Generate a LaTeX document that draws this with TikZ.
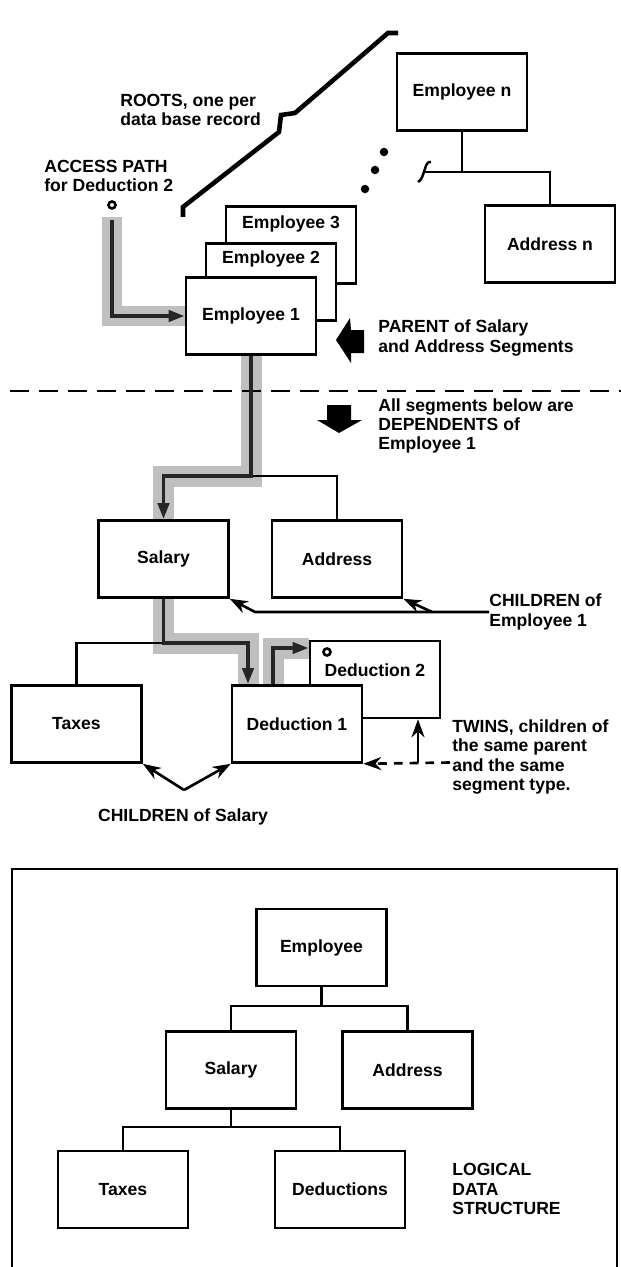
\documentclass[tikz,border=0pt]{standalone}
\usepackage{fontspec}
\setmainfont{Liberation Sans}
\usetikzlibrary{positioning, arrows.meta, backgrounds}

\begin{document}
\begin{tikzpicture}[x=0.02cm, y=-0.02cm,
  seg/.style={draw, line width=1.5pt, fill=white, minimum width=2.6cm, minimum height=1.54cm, inner sep=0pt, font=\bfseries\fontsize{10}{11}\selectfont},
  txt/.style={inner sep=0pt, font=\bfseries\fontsize{10}{11}\selectfont},
  note/.style={txt, align=left, anchor=west},
  link/.style={line width=1.4pt},
  band/.style={line width=0.42cm, draw=black!25, line join=miter},
  trail/.style={line width=2.2pt, draw=black!85, line join=miter, -{Triangle[length=0.32cm,width=0.22cm]}},
  kid/.style={line width=1.5pt, -{Stealth[length=0.36cm,width=0.26cm]}},
  hole/.style={circle, draw, line width=1.5pt, minimum size=0.14cm, inner sep=0pt}]
\useasboundingbox (0,0) rectangle (621,1267);

% roots of the data base
\draw [line width=2.6pt, line join=miter] (183,217) -- (183,207) -- (279,132) -- (281,115) -- (295,113) -- (388,33) -- (398,33);
\node [note] (roots) at (120,110) {ROOTS, one per\\data base record};

\node [seg] (empn) at (462,92) {Employee n};
\node [seg] (addrn) at (550,244) {Address n};
\coordinate (nbar) at (462,172);
\draw [link] (empn) -- (nbar);
\draw [link] (423,172) -- (addrn.north |- nbar) -- (addrn.north);
\draw [link] (431,162) .. controls (424,160) and (425,179) .. (418,182);
\fill (384,152) circle (0.085cm);
\fill (375,170) circle (0.085cm);
\fill (365,189) circle (0.085cm);

% stacked roots
\node [seg] (emp3) at (291,245) {};
\node [txt] at ([yshift=-0.38cm]emp3.north) {Employee 3};
\node [seg] (emp2) at (271,282) {};
\node [txt] at ([yshift=-0.34cm]emp2.north) {Employee 2};
\node [seg] (emp1) at (251,316) {Employee 1};

% access path
\node [note] (access) at (44,176) {ACCESS PATH\\for Deduction 2};
\node [hole] (start) at (112,205) {};
\draw [trail] ([yshift=-0.2cm]start.south) -- (start |- emp1.west) -- (emp1.west);

\fill (364,330) -- (351,330) -- (350,318) -- (336,340) -- (351,363) -- (351,353) -- (364,353) -- cycle;
\node [note] (parent) at (378,338) {PARENT of Salary\\and Address Segments};

\draw [line width=1.5pt, dash pattern=on 11pt off 5.5pt] (10,391) -- (621,391);
\fill (327,405) -- (351,405) -- (351,420) -- (362,420) -- (339,433) -- (317,420) -- (327,420) -- cycle;
\node [note] (dep) at (378,426) {All segments below are\\DEPENDENTS of\\Employee 1};

% dependents
\node [seg] (sal) at (163.5,559) {Salary};
\node [seg] (addr) at (337,559) {Address};
\coordinate (ebar) at (251,476);
\draw [link] (ebar) -| (addr.north);
\draw [trail] (emp1.south) -- (ebar) -| (sal.north);

\node [note] (kids1) at (489,612) {CHILDREN of\\Employee 1};
\coordinate (k1b) at (432,612);
\draw [kid] (kids1.west) -- ++(-234,0) -- (sal.south east);
\draw [kid] (k1b) -- (addr.south east);

\node [seg] (tax) at (76.5,724) {Taxes};
\node [seg] (ded2) at (375,679.5) {};
\node [txt] at ([yshift=-0.62cm]ded2.north) {Deduction 2};
\node [hole] (mark) at (327,652) {};
\node [seg] (ded1) at (297,724) {Deduction 1};
\coordinate (d1in) at (248,643);
\coordinate (d2in) at (273,648);
\draw [link] (tax.north) |- (d1in);
\draw [trail] (sal.south) |- (d1in) -- (d1in |- ded1.north);
\draw [trail] (d2in |- ded1.north) -- (d2in) -- (d2in -| ded2.west);

\coordinate (apex) at (184,790);
\draw [kid] (apex) -- (tax.south east);
\draw [kid] (apex) -- (ded1.south west);
\node [txt] (kids2) at (183,817) {CHILDREN of Salary};

\node [note] (twins) at (452,757) {TWINS, children of\\the same parent\\and the same\\segment type.};
\coordinate (twe) at (450,762.5);
\coordinate (tw) at (418,762.5);
\draw [kid, dash pattern=on 5pt off 4pt] (twe) -- (ded1.south east);
\draw [kid] (tw) -- (tw |- ded2.south);

\begin{pgfonlayer}{background}
\draw [band] (112,217) -- (112,316) -- (emp1.west);
\draw [band] (emp1.south) -- (ebar) -| (sal.north);
\draw [band] (sal.south) |- (d1in) -- (d1in |- ded1.north);
\draw [band] (d2in |- ded1.north) -- (d2in) -- (d2in -| ded2.west);
\end{pgfonlayer}

% logical data structure
\draw [line width=1.5pt] (12,1267) -- (12,869) -- (617,869) -- (617,1267);
\node [seg] (lemp) at (321.5,947.5) {Employee};
\node [seg] (lsal) at (231,1070) {Salary};
\node [seg] (laddr) at (407.5,1070) {Address};
\node [seg] (ltax) at (123,1189.5) {Taxes};
\node [seg] (lded) at (340,1189.5) {Deductions};
\coordinate (ljoin) at (321.5,1006);
\coordinate (sjoin) at (231,1127);
\draw [link] (lemp) -- (ljoin);
\draw [link] (lsal.north) |- (ljoin) -| (laddr.north);
\draw [link] (lsal) -- (sjoin);
\draw [link] (ltax.north) |- (sjoin) -| (lded.north);
\node [note] (logical) at (452,1189) {LOGICAL\\DATA\\STRUCTURE};
\end{tikzpicture}
\end{document}
